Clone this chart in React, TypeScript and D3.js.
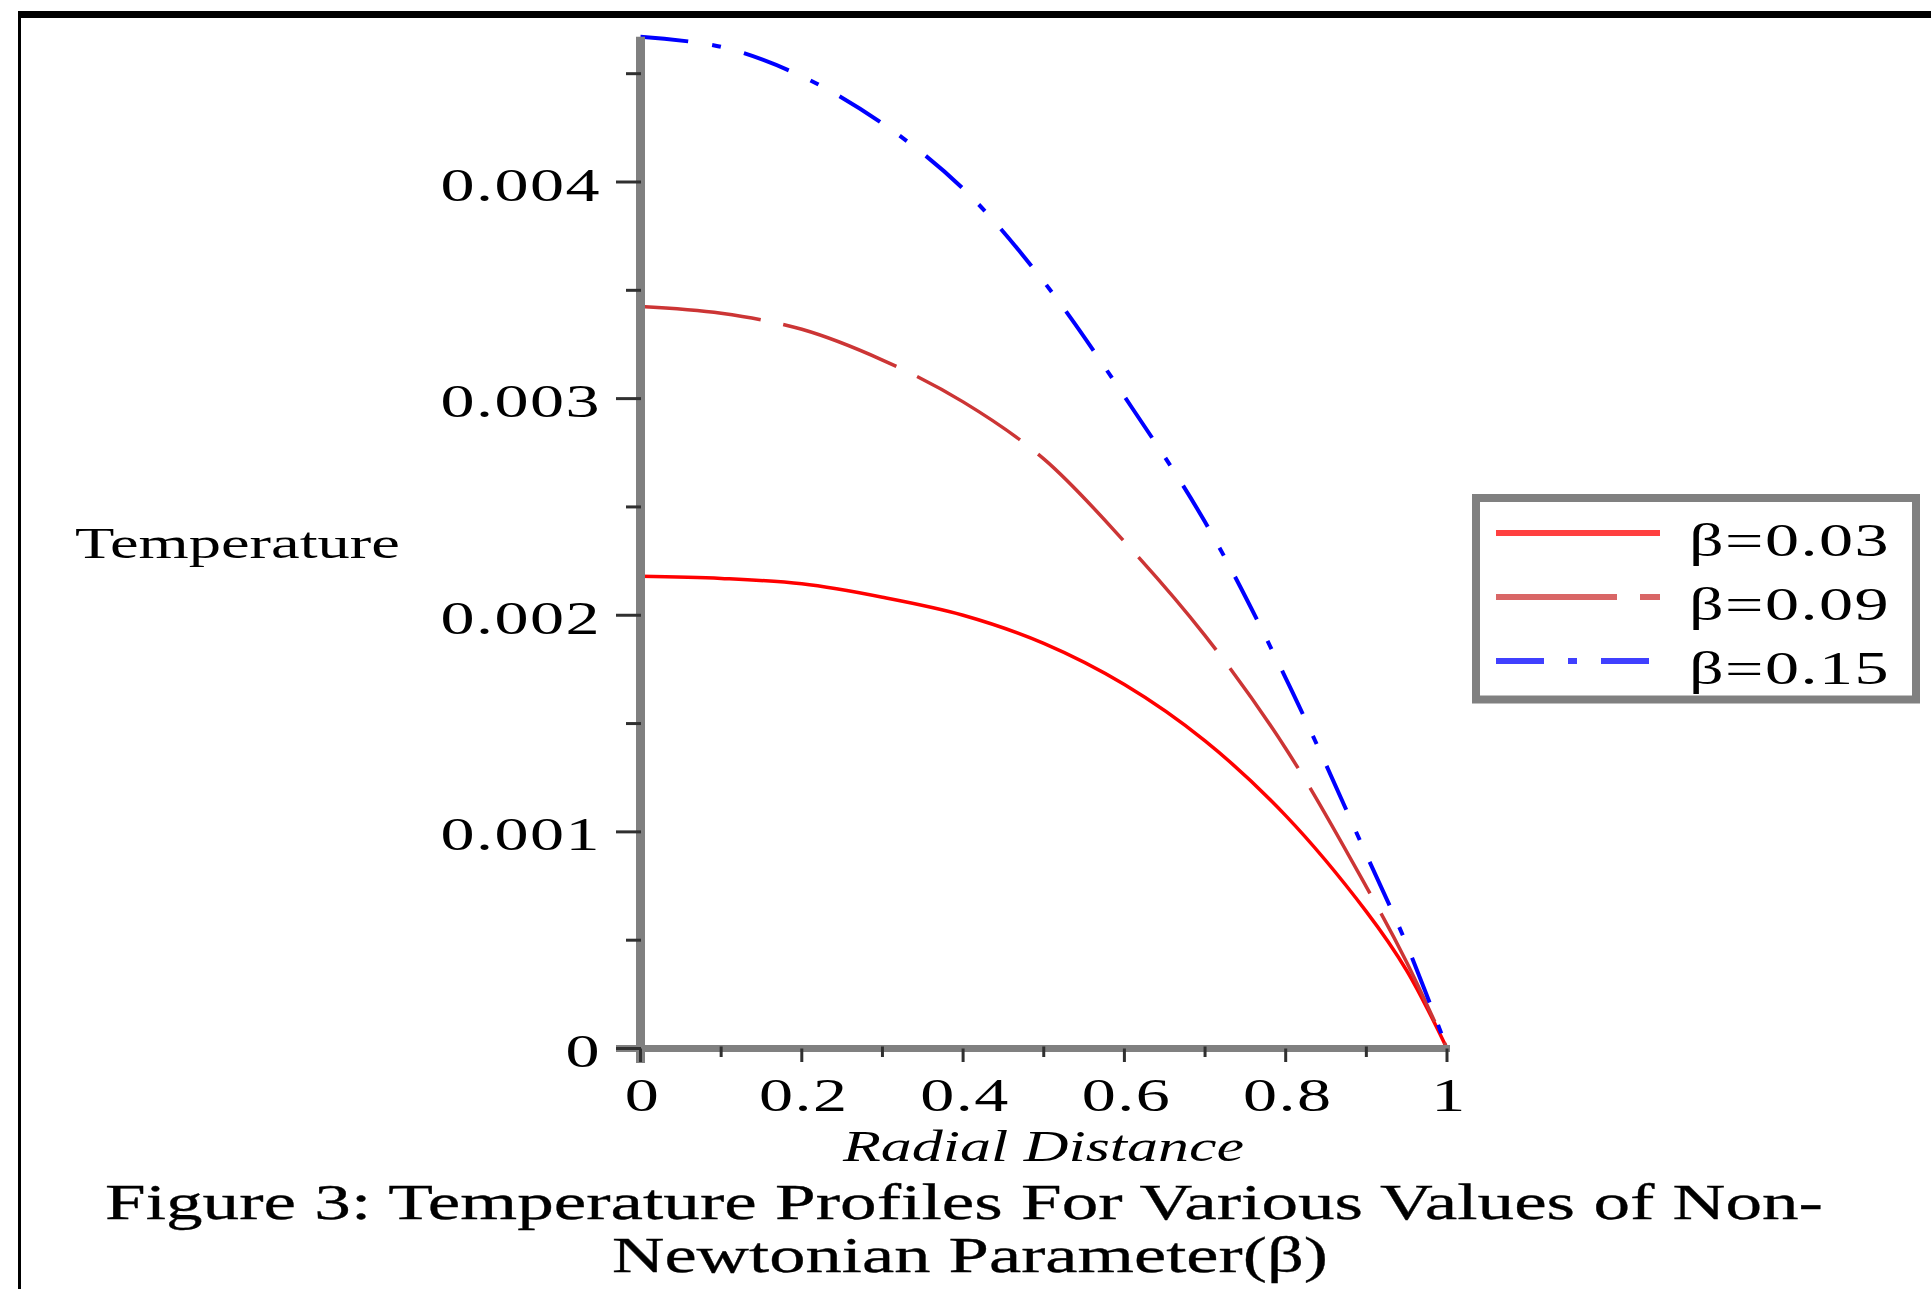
import React from "react";
import * as d3 from "d3";

const radial = [0, 0.1, 0.2, 0.3, 0.4, 0.5, 0.6, 0.7, 0.8, 0.9, 0.95, 1];
const tempBeta003 = [0.00218, 0.00217, 0.002145, 0.002083, 0.002, 0.00187, 0.00168, 0.00142, 0.001075, 0.000632, 0.00036, 0];
const tempBeta009 = [0.003425, 0.003394, 0.00332, 0.003178, 0.002985, 0.002722, 0.00234, 0.001906, 0.001385, 0.000746, 0.000398, 0];
const tempBeta015 = [0.00467, 0.004624, 0.004488, 0.00427, 0.003969, 0.00354, 0.00301, 0.00243, 0.00171, 0.000895, 0.00048, 0];

const seriesNames = ["β=0.03", "β=0.09", "β=0.15"];
const seriesValues = [tempBeta003, tempBeta009, tempBeta015];
const seriesColors = ["#ff0000", "#cc3535", "#0000ff"];
const legendColors = ["#ff4040", "#d96666", "#4040ff"];
const seriesDash = ["none", "121 23", "48 24 9 24"];

const xTicks = [0, 0.2, 0.4, 0.6, 0.8, 1];
const xTickLabels = ["0", "0.2", "0.4", "0.6", "0.8", "1"];
const xMinorTicks = [0.1, 0.3, 0.5, 0.7, 0.9];
const yTicks = [0, 0.001, 0.002, 0.003, 0.004];
const yTickLabels = ["0", "0.001", "0.002", "0.003", "0.004"];
const yMinorTicks = [0.0005, 0.0015, 0.0025, 0.0035, 0.0045];

const xLabel = "Radial Distance";
const yLabel = "Temperature";
const caption1 = "Figure 3: Temperature Profiles For Various Values of Non-";
const caption2 = "Newtonian Parameter(β)";

const FONT = "'Liberation Serif', 'Times New Roman', serif";

export default function App() {
  const W = 1931;
  const H = 1289;
  const x = d3.scaleLinear().domain([0, 1]).range([640.5, 1447]);
  const y = d3.scaleLinear().domain([0, 0.004]).range([1048.5, 182]);
  const yTop = y(d3.max(tempBeta015) as number);

  const line = d3
    .line<number>()
    .x((_, i) => x(radial[i]))
    .y((d) => y(d))
    .curve(d3.curveCatmullRom.alpha(0.5));

  const axisColor = "#808080";
  const tickColor = "#303030";

  const numText = (label: string, tx: number, ty: number, anchor: string, key: string) => (
    <text
      key={key}
      transform={`translate(${tx},${ty}) scale(1.45,1)`}
      textAnchor={anchor}
      fontFamily={FONT}
      fontSize={47}
      letterSpacing={1}
      fill="#000"
    >
      {label}
    </text>
  );

  const legendX0 = 1496;
  const legendX1 = 1660;
  const legendRows = [533, 597, 661];

  return (
    <svg
      width={W}
      height={H}
      style={{ position: "absolute", left: 0, top: 0, display: "block", background: "#fff" }}
    >
      <rect x={0} y={0} width={W} height={H} fill="#fff" />
      {/* frame */}
      <rect x={18} y={11} width={W - 18} height={7} fill="#000" />
      <rect x={18} y={11} width={3} height={H - 11} fill="#000" />

      {/* curves */}
      {seriesValues.map((vals, i) => (
        <path
          key={"c" + i}
          d={line(vals) || ""}
          fill="none"
          stroke={seriesColors[i]}
          strokeWidth={i === 2 ? 4 : 3.5}
          strokeDasharray={seriesDash[i]}
        />
      ))}

      {/* axes */}
      <line x1={x(0)} x2={x(0)} y1={yTop} y2={1063} stroke={axisColor} strokeWidth={9} />
      <line x1={616} x2={x(1) + 3} y1={y(0)} y2={y(0)} stroke={axisColor} strokeWidth={7} />

      {/* y ticks */}
      {yTicks.map((t) => (
        <line key={"yt" + t} x1={616} x2={641} y1={y(t)} y2={y(t)} stroke={tickColor} strokeWidth={3} />
      ))}
      {yMinorTicks.map((t) => (
        <line key={"ym" + t} x1={626} x2={641} y1={y(t)} y2={y(t)} stroke={tickColor} strokeWidth={3} />
      ))}
      {/* x ticks */}
      {xTicks.map((t) => (
        <line key={"xt" + t} x1={x(t)} x2={x(t)} y1={y(0)} y2={1062} stroke={tickColor} strokeWidth={3} />
      ))}
      {xMinorTicks.map((t) => (
        <line key={"xm" + t} x1={x(t)} x2={x(t)} y1={y(0) - 2} y2={1057} stroke={tickColor} strokeWidth={3} />
      ))}

      {/* tick labels */}
      {yTicks.map((t, i) => numText(yTickLabels[i], 601, y(t) + 18.5, "end", "yl" + t))}
      {xTicks.map((t, i) => numText(xTickLabels[i], x(t) + 2, 1111, "middle", "xl" + t))}

      {/* axis labels */}
      <text
        x={75}
        y={558}
        fontFamily={FONT}
        fontSize={44}
        textLength={325}
        lengthAdjust="spacingAndGlyphs"
        fill="#000"
      >
        {yLabel}
      </text>
      <text
        x={843}
        y={1161}
        fontFamily={FONT}
        fontStyle="italic"
        fontSize={44}
        textLength={401}
        lengthAdjust="spacingAndGlyphs"
        fill="#000"
      >
        {xLabel}
      </text>

      {/* legend */}
      <rect x={1476} y={498} width={440} height={201.5} fill="#fff" stroke={axisColor} strokeWidth={8} />
      {seriesNames.map((name, i) => (
        <g key={"lg" + i}>
          <line
            x1={legendX0}
            x2={legendX1}
            y1={legendRows[i]}
            y2={legendRows[i]}
            stroke={legendColors[i]}
            strokeWidth={6}
            strokeDasharray={seriesDash[i]}
          />
          {numText(name, 1689, legendRows[i] + 23, "start", "lt" + i)}
        </g>
      ))}

      {/* caption */}
      <text
        x={105}
        y={1219}
        fontFamily={FONT}
        fontSize={50}
        textLength={1718}
        lengthAdjust="spacingAndGlyphs"
        fill="#000"
        stroke="#000"
        strokeWidth={0.3}
      >
        {caption1}
      </text>
      <text
        x={612}
        y={1272}
        fontFamily={FONT}
        fontSize={50}
        textLength={716}
        lengthAdjust="spacingAndGlyphs"
        fill="#000"
        stroke="#000"
        strokeWidth={0.3}
      >
        {caption2}
      </text>
    </svg>
  );
}
